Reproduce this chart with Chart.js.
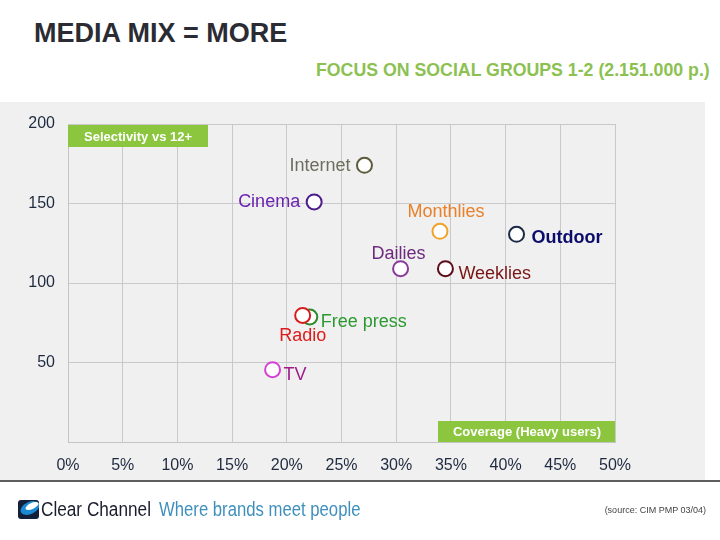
<!DOCTYPE html>
<html><head><meta charset="utf-8">
<script src="https://cdn.jsdelivr.net/npm/chart.js@4.4.1/dist/chart.umd.min.js"></script>
<style>
html,body{margin:0;padding:0;background:#fff;}
#wrap{position:relative;width:720px;height:540px;overflow:hidden;font-family:"Liberation Sans",Arial,sans-serif;}
#panel{position:absolute;left:0;top:102px;width:705px;height:379px;background:#f0f0f1;}
#rule{position:absolute;left:0;top:480px;width:720px;height:2px;background:#5e5e5e;}
#title{position:absolute;left:34px;top:18px;font-size:27px;font-weight:bold;color:#2b2b33;white-space:nowrap;}
#subtitle{position:absolute;right:10px;top:60px;font-size:18px;font-weight:bold;color:#8cc152;white-space:nowrap;transform:scaleX(0.985);transform-origin:right center;}
#c{position:absolute;left:0;top:0;}
#logo{position:absolute;left:18px;top:500px;}
#brand{position:absolute;left:41px;top:498px;font-size:20px;color:#1b1d2e;white-space:nowrap;transform:scaleX(0.86);transform-origin:left center;}
#tag{position:absolute;left:159px;top:498px;font-size:20px;color:#3f8fbd;white-space:nowrap;transform:scaleX(0.835);transform-origin:left center;}
#source{position:absolute;right:14px;top:505px;font-size:9px;color:#444;white-space:nowrap;}
</style></head>
<body>
<div id="wrap">
  <div id="panel"></div>
  <div id="rule"></div>
  <div id="title">MEDIA MIX = MORE</div>
  <div id="subtitle">FOCUS ON SOCIAL GROUPS 1-2 (2.151.000 p.)</div>
  <canvas id="c" width="720" height="540"></canvas>
  <svg id="logo" width="21" height="19" viewBox="0 0 21 19">
    <rect x="0" y="0" width="21" height="19" rx="3" fill="#14203a"/>
    <ellipse cx="12" cy="8" rx="10" ry="6" fill="#1a8ad4" transform="rotate(-25 12 8)"/>
    <ellipse cx="14" cy="6" rx="7" ry="3" fill="#ffffff" transform="rotate(-25 14 6)"/>
  </svg>
  <div id="brand">Clear Channel</div>
  <div id="tag">Where brands meet people</div>
  <div id="source">(source: CIM PMP 03/04)</div>
</div>
<script>
// ---- data ----
const media = ["Internet","Cinema","Monthlies","Outdoor","Dailies","Weeklies","Free press","Radio","TV"];
const coverage = [27.1, 22.5, 34.0, 41.0, 30.4, 34.5, 22.1, 21.45, 18.7];   // % heavy users
const selectivity = [174, 151, 132.5, 130.6, 109, 109, 78.6, 79.6, 45.5]; // index vs 12+
const xTicks = [0,5,10,15,20,25,30,35,40,45,50];
const yTicks = [50,100,150,200];

// ---- styles ----
const circleColors = ["#5c5c3c","#4b1c8c","#f0a32a","#1a2a45","#8a3a9a","#5c0c18","#2a8a2a","#d81a1a","#d444d4"];
const textColors   = ["#6e6e5e","#6a22b0","#e8812a","#0c0c6a","#6e2a7e","#7a1515","#2a9a30","#e01a1a","#a01a8a"];
const labelPlace = {
  "Internet":   {dx:-14, dy:1,  align:"right"},
  "Cinema":     {dx:-14, dy:0,  align:"right"},
  "Monthlies":  {dx:6,   dy:-19, align:"center"},
  "Outdoor":    {dx:15,  dy:4,  align:"left", bold:true},
  "Dailies":    {dx:-2,  dy:-15, align:"center"},
  "Weeklies":   {dx:13,  dy:5,  align:"left"},
  "Free press": {dx:11,  dy:5,  align:"left"},
  "Radio":      {dx:0,   dy:21, align:"center"},
  "TV":         {dx:11,  dy:5,  align:"left"}
};

const points = coverage.map((x,i)=>({x:x, y:selectivity[i]}));

const overlay = {
  id:'overlay',
  afterDatasetsDraw(chart){
    const ctx = chart.ctx, a = chart.chartArea;
    ctx.save();
    // green tag boxes
    ctx.fillStyle = '#8cc63f';
    ctx.fillRect(a.left, a.top+1, 140, 22);
    ctx.fillRect(a.right-177, a.bottom-21, 177, 21);
    ctx.fillStyle = '#ffffff';
    ctx.font = 'bold 13px "Liberation Sans", Arial, sans-serif';
    ctx.textBaseline = 'middle';
    ctx.textAlign = 'center';
    ctx.fillText('Selectivity vs 12+', a.left+70, a.top+13);
    ctx.fillText('Coverage (Heavy users)', a.right-88, a.bottom-10);
    // point labels
    const meta = chart.getDatasetMeta(0);
    meta.data.forEach((el,i)=>{
      const p = labelPlace[media[i]];
      ctx.font = (p.bold?'bold ':'') + '18px "Liberation Sans", Arial, sans-serif';
      ctx.fillStyle = textColors[i];
      ctx.textAlign = p.align;
      ctx.textBaseline = 'middle';
      ctx.fillText(media[i], el.x + p.dx, el.y + p.dy);
    });
    ctx.restore();
  }
};

new Chart(document.getElementById('c'), {
  type: 'scatter',
  data: {
    datasets: [{
      data: points,
      pointRadius: 7.5,
      pointHoverRadius: 7.5,
      pointBorderWidth: 2,
      pointBackgroundColor: '#ffffff',
      pointBorderColor: circleColors
    }]
  },
  options: {
    responsive: false,
    animation: false,
    layout: {padding: {left:0, top:124, right:105, bottom:58}},
    plugins: {legend:{display:false}, tooltip:{enabled:false}},
    scales: {
      x: {
        type: 'linear', min: 0, max: 50,
        afterBuildTicks: s => { s.ticks = xTicks.map(v=>({value:v})); },
        afterFit: s => { s.height = 40; },
        grid: {color:'#c9c9c9', drawTicks:false, lineWidth:1},
        border: {color:'#c4c4c4'},
        ticks: {padding: 14, color:'#1e2a3e', font:{family:'"Liberation Sans", Arial, sans-serif', size:16}, callback: v => v + '%'}
      },
      y: {
        type: 'linear', min: 0, max: 200,
        afterBuildTicks: s => { s.ticks = [0].concat(yTicks).map(v=>({value:v})); },
        afterFit: s => { s.width = 68; },
        grid: {color:'#c9c9c9', drawTicks:false, lineWidth:1},
        border: {color:'#c4c4c4'},
        ticks: {padding: 13, color:'#1e2a3e', font:{family:'"Liberation Sans", Arial, sans-serif', size:16}, callback: v => v === 0 ? '' : v}
      }
    }
  },
  plugins: [overlay]
});
</script>
</body></html>
